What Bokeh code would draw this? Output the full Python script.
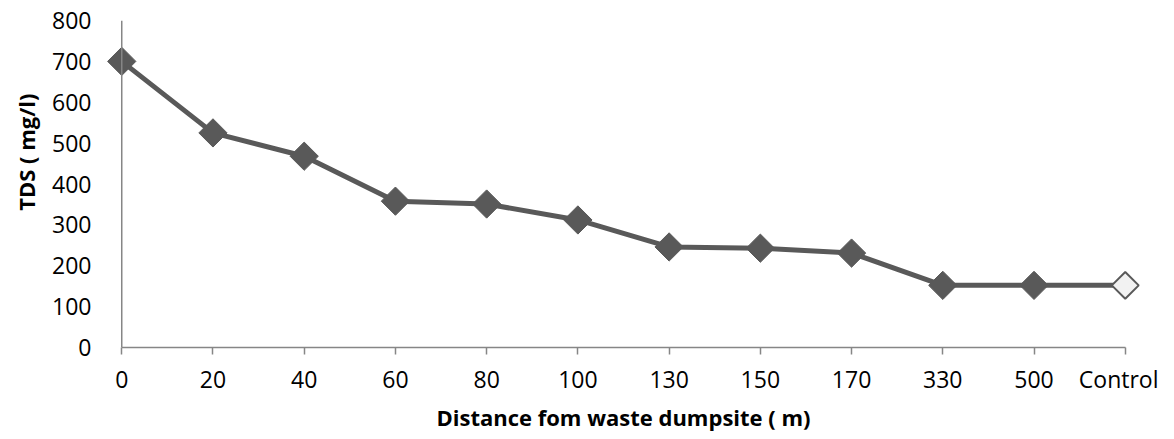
import math
from bokeh.plotting import figure
from bokeh.models import ColumnDataSource, Range1d, FixedTicker, Span, Title
from bokeh.embed import file_html
from bokeh.resources import INLINE

categories = ["0", "20", "40", "60", "80", "100", "130", "150", "170", "330", "500", "Control"]
tds = [700, 525, 468, 358, 351, 312, 246, 243, 231, 152, 152, 152]
y_ticks = [0, 100, 200, 300, 400, 500, 600, 700, 800]

xs = list(range(len(categories)))
src_main = ColumnDataSource(dict(x=xs[:-1], y=tds[:-1]))
src_ctrl = ColumnDataSource(dict(x=xs[-1:], y=tds[-1:]))
src_line = ColumnDataSource(dict(x=xs, y=tds))

GRAY = "#595959"
AXIS = "#868686"
FONT = "Open Sans"

p = figure(width=1158, height=434, output_backend="svg", toolbar_location=None,
           x_range=Range1d(-0.2, len(categories) - 1 + 0.2), y_range=Range1d(0, 800),
           min_border_left=103, min_border_right=15, min_border_top=20, min_border_bottom=87)
p.outline_line_color = None
p.xgrid.visible = False
p.ygrid.visible = False

p.line("x", "y", source=src_line, line_color=GRAY, line_width=5)
p.scatter("x", "y", source=src_main, marker="square", size=20, angle=math.pi / 4,
          fill_color=GRAY, line_color=GRAY, line_width=1)
p.scatter("x", "y", source=src_ctrl, marker="square", size=19, angle=math.pi / 4,
          fill_color="#f2f2f2", line_color=GRAY, line_width=2)

# x axis
xa = p.xaxis[0]
xa.ticker = FixedTicker(ticks=xs)
xa.major_label_overrides = {i: c for i, c in enumerate(categories)}
xa.bounds = (0, len(categories) - 1)
xa.axis_line_color = AXIS
xa.axis_line_width = 1.5
xa.major_tick_line_color = AXIS
xa.major_tick_line_width = 1.5
xa.major_tick_in = 0
xa.major_tick_out = 7
xa.minor_tick_line_color = None
xa.major_label_text_font = FONT
xa.major_label_text_font_size = "23px"
xa.major_label_text_color = "black"
xa.major_label_standoff = 8
xa.axis_label = "Distance fom waste dumpsite ( m)"
xa.axis_label_text_font = FONT
xa.axis_label_text_font_size = "22px"
xa.axis_label_text_font_style = "bold"
xa.axis_label_text_color = "black"
xa.axis_label_standoff = 4

# y axis
ya = p.yaxis[0]
ya.ticker = FixedTicker(ticks=y_ticks)
ya.axis_line_color = None
ya.major_tick_line_color = None
ya.minor_tick_line_color = None
ya.major_label_text_font = FONT
ya.major_label_text_font_size = "23px"
ya.major_label_text_color = "black"
ya.major_label_standoff = 6

p.add_layout(Span(location=0, dimension="height", line_color=AXIS, line_width=1.5))

p.add_layout(Title(text="TDS ( mg/l)", align="right", offset=73, standoff=17,
                   text_font=FONT, text_font_size="22px", text_font_style="bold",
                   text_color="black"), "left")

open("out.html", "w").write(file_html(p, INLINE))
